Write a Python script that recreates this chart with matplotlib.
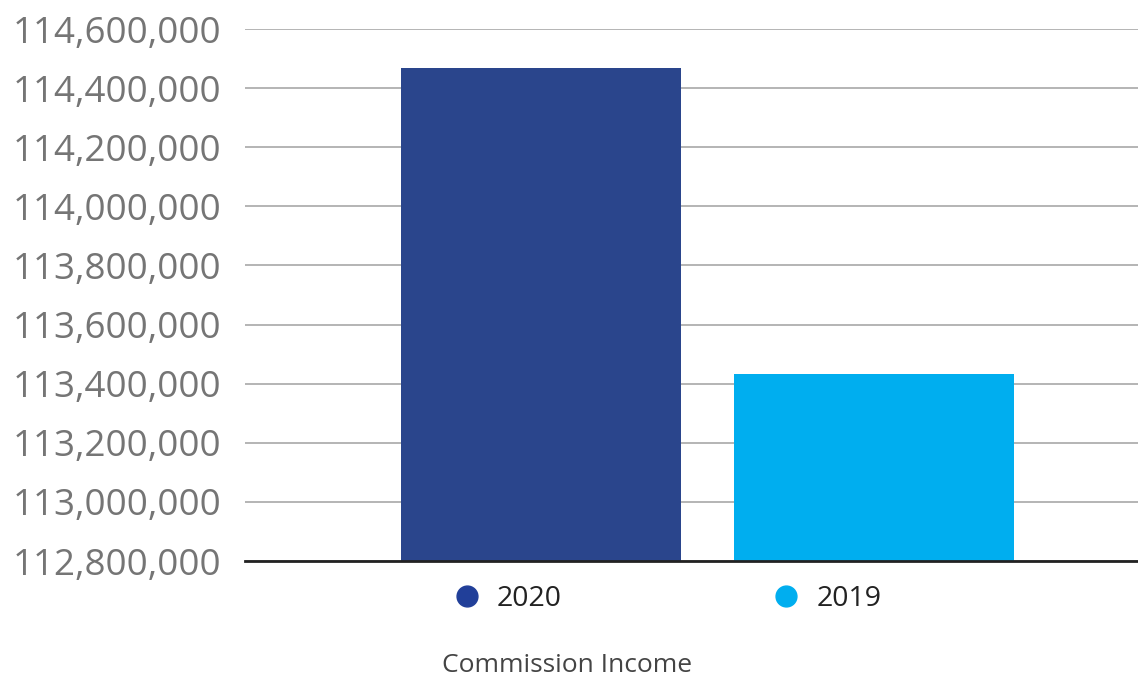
import matplotlib.pyplot as plt
from matplotlib.lines import Line2D
from matplotlib.ticker import FuncFormatter

# Commission income by year
years = ['2020', '2019']
values = [114469000, 113433000]
colors = ['#2A458C', '#00AEEF']
legend_colors = ['#213F99', '#00AEEF']
category = 'Commission Income'

fig = plt.figure(figsize=(11.38, 6.77), dpi=100)
ax = fig.add_axes([245/1138, 1 - 561/677, (1138-245)/1138, (561-29)/677])

xpos = [0, 1]
ax.bar(xpos, values, width=0.84, color=colors, zorder=3)
ax.set_xlim(-0.889, 1.793)
ax.set_ylim(112800000, 114600000)
ax.set_yticks(range(112800000, 114600001, 200000))
ax.yaxis.set_major_formatter(FuncFormatter(lambda v, p: f'{v:,.0f}'))
ax.grid(axis='y', color='#A8A8A8', linewidth=1.2, zorder=0)
ax.set_xticks([])
ax.tick_params(axis='y', length=0, pad=17, labelsize=26.5, labelcolor='#757575')
for lab in ax.get_yticklabels():
    lab.set_family('Open Sans')
for s in ['top', 'right', 'left']:
    ax.spines[s].set_visible(False)
ax.spines['bottom'].set_color('#222222')
ax.spines['bottom'].set_linewidth(2)
ax.spines['bottom'].set_zorder(4)

handles = [Line2D([], [], marker='o', linestyle='', markersize=15, color=c) for c in legend_colors]
leg = fig.legend(handles, years, loc='center left', bbox_to_anchor=(458/1138, 1 - 599/677),
                 ncol=2, frameon=False, handlelength=0.6, handletextpad=0.75,
                 columnspacing=7.6, borderpad=0, borderaxespad=0,
                 prop={'family': 'Open Sans', 'size': 20.5})
for t in leg.get_texts():
    t.set_color('#222222')

fig.text(567/1138, 1 - 665/677, category, ha='center', va='center',
         fontsize=19, color='#444444', family='Open Sans')

plt.savefig('out.png', dpi=100)
